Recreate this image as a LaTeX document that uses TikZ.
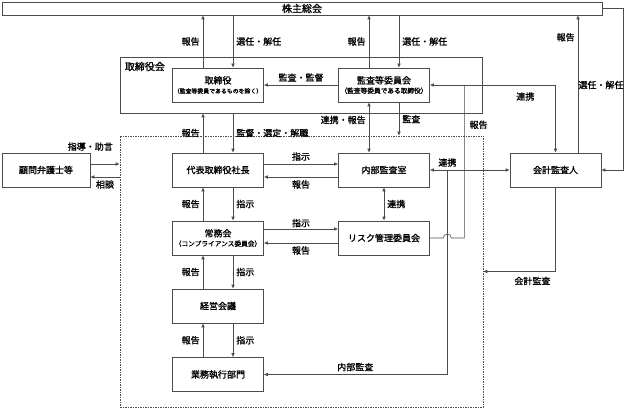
\documentclass[tikz,border=0pt]{standalone}
\usepackage{fontspec}
\setmainfont{Noto Sans CJK JP}[UprightFeatures={FakeBold=1.2}]
\usetikzlibrary{arrows.meta,positioning}

\begin{document}
\begin{tikzpicture}[x=1pt,y=-1pt,node distance=166pt,on grid,
    >={Latex[length=4pt,width=3.5pt]},
    line/.style={draw=black!70,line width=0.6pt},
    box/.style={line,minimum width=91pt,minimum height=34pt,inner sep=1pt,
      align=center,font=\fontsize{9}{10.5}\selectfont},
    lbl/.style={font=\fontsize{9}{10}\selectfont,inner sep=3pt}]
   \useasboundingbox (0,0) rectangle (624,409);
   % boxes
   \node[box,minimum width=600pt,minimum height=13pt,font=\fontsize{10}{11}\selectfont] (sh) at (302,8.5) {株主総会};
   \node[line,minimum width=362pt,minimum height=56pt] (bod) at (301,85) {};
   \node[lbl,font=\fontsize{10}{11}\selectfont,anchor=north west] (bodlbl) at ([shift={(2pt,-2pt)}]bod.north west) {取締役会};
   \node[box] (dir) at (218,85) {取締役\\[-1pt]{\fontsize{5.9}{7}\selectfont（監査等委員であるものを除く）}};
   \node[box,right=of dir] (acb) {監査等委員会\\[-1pt]{\fontsize{6.7}{7}\selectfont（監査等委員である取締役）}};
   \node[box,below=85pt of dir] (ceo) {代表取締役社長};
   \node[box,right=of ceo] (iad) {内部監査室};
   \node[box,below=68pt of ceo] (mgt) {常務会\\[-1pt]{\fontsize{6.7}{7}\selectfont（コンプライアンス委員会）}};
   \node[box,right=of mgt] (risk) {リスク管理委員会};
   \node[box,below=68pt of mgt] (mtg) {経営会議};
   \node[box,below=68.5pt of mtg] (ops) {業務執行部門};
   \node[box,minimum width=88pt,left=172pt of ceo] (law) {顧問弁護士等};
   \node[box,right=337.5pt of ceo] (aud) {会計監査人};
   \node[line,dash pattern=on 1.5pt off 1pt,minimum width=363pt,minimum height=271pt] (grp) at (301.5,271.5) {};
   \coordinate (rj) at ([xshift=34.5pt]acb.east);

   % 株主総会
   \draw[line,->] ([xshift=-15pt]dir.north) -- ([xshift=-15pt]dir.north |- sh.south) node[lbl,midway,left] {報告};
   \draw[line,->] ([xshift=15pt]dir.north |- sh.south) -- ([xshift=15pt]dir.north) node[lbl,midway,right] {選任・解任};
   \draw[line,->] ([xshift=-15pt]acb.north) -- ([xshift=-15pt]acb.north |- sh.south) node[lbl,midway,left] {報告};
   \draw[line,->] ([xshift=15pt]acb.north |- sh.south) -- ([xshift=15pt]acb.north) node[lbl,midway,right] {選任・解任};
   \draw[line,->] ([xshift=22.5pt]aud.north) -- ([xshift=22.5pt]aud.north |- sh.south) node[lbl,pos=0.84,left] {報告};
   \draw[line,->] (sh.east) -- ++(21pt,0) |- (aud.east);
   \node[lbl,inner sep=0pt] (audsel) at (601,85) {選任・解任};

   % 取締役会
   \draw[line,->] (acb.west) -- (dir.east) node[lbl,midway,above] {監査・監督};
   \draw[line,->] ([xshift=-15pt]ceo.north) -- ([xshift=-15pt]ceo.north |- bod.south) node[lbl,midway,left] {報告};
   \draw[line,->] ([xshift=15pt]ceo.north |- bod.south) -- ([xshift=15pt]ceo.north) node[lbl,midway,right] {監督・選定・解職};
   \draw[line,<->] ([xshift=-15pt]acb.south) -- ([xshift=-15pt]iad.north) node[lbl,pos=0.35,left] {連携・報告};
   \draw[line,->] ([xshift=15pt]acb.south) -- ([xshift=15pt]acb.south |- grp.north) node[lbl,midway,right] {監査};
   \draw[line,<->] (acb.east) -| (aud.north) node[lbl,pos=0.38,below,yshift=-4pt] {連携};

   % 執行側
   \draw[line,->] ([yshift=6pt]ceo.east) -- ([yshift=6pt]iad.west) node[lbl,midway,above] {指示};
   \draw[line,->] ([yshift=-7pt]iad.west) -- ([yshift=-7pt]ceo.east) node[lbl,midway,below] {報告};
   \draw[line,->] ([yshift=9pt]mgt.east) -- ([yshift=9pt]risk.west) node[lbl,midway,above,inner sep=1.5pt] {指示};
   \draw[line,->] ([yshift=-5pt]risk.west) -- ([yshift=-5pt]mgt.east) node[lbl,midway,below] {報告};
   \foreach \lo/\hi in {ceo/mgt,mgt/mtg,mtg/ops} {
     \draw[line,->] ([xshift=-15pt]\hi.north) -- ([xshift=-15pt]\lo.south) node[lbl,midway,left] {報告};
     \draw[line,->] ([xshift=15pt]\lo.south) -- ([xshift=15pt]\hi.north) node[lbl,midway,right] {指示};
   }
   \draw[line,<->] (iad.south) -- (risk.north) node[lbl,midway,right] {連携};
   \draw[line,<->] (iad.east) -- (aud.west) node[lbl,pos=0.22,above] {連携};
   \draw[line,->] ([xshift=17pt]iad.east) |- (ops.east) node[lbl,pos=0.75,above] {内部監査};
   \draw[line] (risk.east) -- ++(13.5pt,0) arc[start angle=180,end angle=0,radius=4pt] -| (rj) node[lbl,pos=0.87,right,xshift=2pt] {報告};
   \draw[line,->] (aud.south) |- (grp.east) node[lbl,pos=0.66,below,yshift=-2pt] {会計監査};

   % 顧問弁護士
   \draw[line,->] ([yshift=6pt]law.east) -- ([yshift=6pt]law.east -| grp.west) node[lbl,pos=0,above=10pt] {指導・助言};
   \draw[line,->] ([yshift=-7pt]law.east -| grp.west) -- ([yshift=-7pt]law.east) node[lbl,midway,below] {相談};
\end{tikzpicture}
\end{document}
